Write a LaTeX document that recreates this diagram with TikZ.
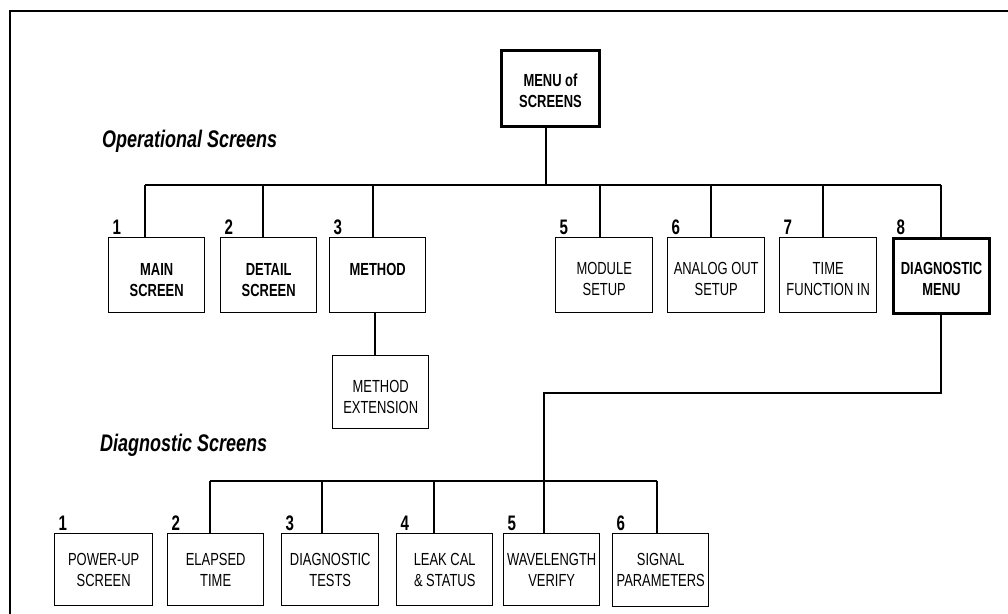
\documentclass[tikz,border=0pt]{standalone}
\usepackage{fontspec}
\setmainfont{Liberation Sans}[FakeStretch=0.75]
\newfontfamily\boxfont{Liberation Sans}[FakeStretch=0.74]
\newfontfamily\numfont{Liberation Sans}[FakeStretch=0.72]
\begin{document}
\begin{tikzpicture}[x=1pt,y=-1pt,
  box/.style={draw, line width=1.4pt, rectangle, inner sep=0pt, anchor=north west},
  thickbox/.style={box, line width=3pt},
  wire/.style={line width=1.3pt},
  btxt/.style={anchor=north, inner sep=0pt, align=center, font=\boxfont\fontsize{17.5}{21}\selectfont\bfseries},
  rtxt/.style={anchor=north, inner sep=0pt, align=center, font=\boxfont\fontsize{17.5}{21}\selectfont},
  num/.style={anchor=base west, inner sep=0pt, font=\numfont\fontsize{21}{21}\selectfont\bfseries},
  head/.style={anchor=base west, inner sep=0pt, font=\fontsize{24}{26}\selectfont\bfseries\itshape},
]
\useasboundingbox (0,0) rectangle (1008,613);
% frame
\draw[line width=2.3pt] (1010,11) -- (10,11) -- (10,620);

% headings
\node[head] (hop) at (102,147) {Operational Screens};
\node[head] (hdi) at (100,451) {Diagnostic Screens};

% menu
\node[thickbox, minimum width=98pt, minimum height=76pt] (menu) at (500,49) {};
\node[btxt] (tmenu) at ([shift={(0,25)}]menu.north) {MENU of\\SCREENS};

% top row boxes
\node[box, minimum width=96pt, minimum height=75pt] (o1) at (108,237) {};
\node[box, minimum width=96pt, minimum height=75pt] (o2) at (220,237) {};
\node[box, minimum width=96pt, minimum height=75pt] (o3) at (329,237) {};
\node[box, minimum width=97pt, minimum height=75pt] (o5) at (555,237) {};
\node[box, minimum width=97pt, minimum height=75pt] (o6) at (667,237) {};
\node[box, minimum width=97pt, minimum height=75pt] (o7) at (779,237) {};
\node[thickbox, minimum width=96pt, minimum height=75pt] (o8) at (892,237) {};

\node[btxt] (t1) at ([shift={(0,26.5)}]o1.north) {MAIN\\SCREEN};
\node[btxt] (t2) at ([shift={(0,26.5)}]o2.north) {DETAIL\\SCREEN};
\node[btxt] (t3) at ([shift={(0,26.5)}]o3.north) {METHOD};
\node[rtxt] (t5) at ([shift={(0,25)}]o5.north) {MODULE\\SETUP};
\node[rtxt] (t6) at ([shift={(0,25)}]o6.north) {ANALOG OUT\\SETUP};
\node[rtxt] (t7) at ([shift={(0,25)}]o7.north) {TIME\\FUNCTION IN};
\node[btxt] (t8) at ([shift={(0,25)}]o8.north) {DIAGNOSTIC\\MENU};

\node[num] (n1) at ([shift={(4.5,-3)}]o1.north west) {1};
\node[num] (n2) at ([shift={(4.5,-3)}]o2.north west) {2};
\node[num] (n3) at ([shift={(4.5,-3)}]o3.north west) {3};
\node[num] (n5) at ([shift={(4.5,-3)}]o5.north west) {5};
\node[num] (n6) at ([shift={(4.5,-3)}]o6.north west) {6};
\node[num] (n7) at ([shift={(4.5,-3)}]o7.north west) {7};
\node[num] (n8) at ([shift={(4.5,-3)}]o8.north west) {8};

% method extension
\node[box, minimum width=96pt, minimum height=73pt] (m) at (332,355) {};
\node[rtxt] (tm) at ([shift={(0,25)}]m.north) {METHOD\\EXTENSION};

% diagnostic row
\node[box, minimum width=98pt, minimum height=72pt] (d1) at (54,533) {};
\node[box, minimum width=96pt, minimum height=72pt] (d2) at (167,533) {};
\node[box, minimum width=97pt, minimum height=72pt] (d3) at (281,533) {};
\node[box, minimum width=96pt, minimum height=72pt] (d4) at (396,533) {};
\node[box, minimum width=96pt, minimum height=72pt] (d5) at (503,533) {};
\node[box, minimum width=96pt, minimum height=73pt] (d6) at (612,533) {};

\node[rtxt] (s1) at ([shift={(0,20)}]d1.north) {POWER-UP\\SCREEN};
\node[rtxt] (s2) at ([shift={(0,20)}]d2.north) {ELAPSED\\TIME};
\node[rtxt] (s3) at ([shift={(0,20)}]d3.north) {DIAGNOSTIC\\TESTS};
\node[rtxt] (s4) at ([shift={(0,20)}]d4.north) {LEAK CAL\\\& STATUS};
\node[rtxt] (s5) at ([shift={(0,20)}]d5.north) {WAVELENGTH\\VERIFY};
\node[rtxt] (s6) at ([shift={(0,20)}]d6.north) {SIGNAL\\PARAMETERS};

\node[num] (q1) at ([shift={(4.5,-3)}]d1.north west) {1};
\node[num] (q2) at ([shift={(4.5,-3)}]d2.north west) {2};
\node[num] (q3) at ([shift={(4.5,-3)}]d3.north west) {3};
\node[num] (q4) at ([shift={(4.5,-3)}]d4.north west) {4};
\node[num] (q5) at ([shift={(4.5,-3)}]d5.north west) {5};
\node[num] (q6) at ([shift={(4.5,-3)}]d6.north west) {6};

% operational bus
\coordinate (j0) at (546,185);
\coordinate (j1) at (145,185);
\coordinate (j2) at (263,185);
\coordinate (j3) at (373,185);
\coordinate (j5) at (600,185);
\coordinate (j6) at (711,185);
\coordinate (j7) at (823,185);
\coordinate (j8) at (941,185);
\draw[wire] (menu.south -| j0) -- (j0);
\draw[wire] (j1) -- (j8);
\foreach \i in {1,2,3,5,6,7,8} {\draw[wire] (j\i) -- (j\i |- o\i.north);}

% method extension link
\coordinate (x3) at (375,0);
\draw[wire] (o3.south -| x3) -- (m.north -| x3);

% diagnostic link
\coordinate (c1) at (544,393);
\draw[wire] (o8.south -| j8) |- (c1) -- (c1 |- d5.north);
\coordinate (e2) at (210,481);
\coordinate (e3) at (322,481);
\coordinate (e4) at (434,481);
\coordinate (e6) at (657,481);
\draw[wire] (e2) -- (e6);
\foreach \i in {2,3,4,6} {\draw[wire] (e\i) -- (e\i |- d\i.north);}
\end{tikzpicture}
\end{document}
